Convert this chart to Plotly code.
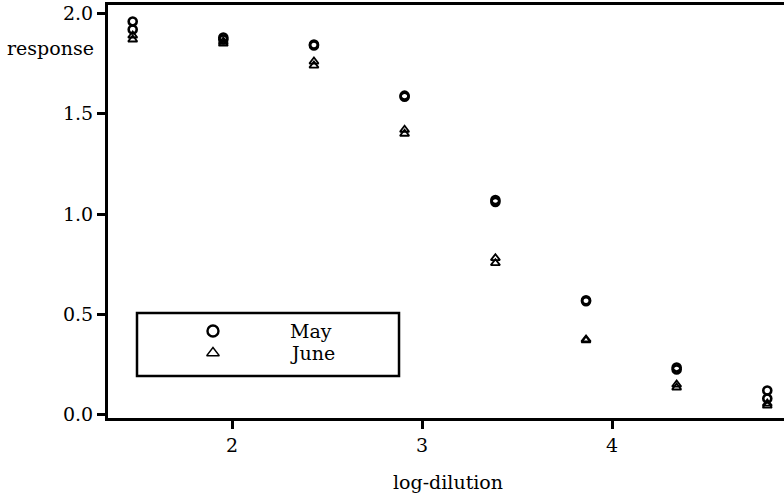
import plotly.graph_objects as go

# data: log10 dilution, two replicates per month
log_dilution = [1.477, 1.477, 1.954, 1.954, 2.431, 2.431, 2.908, 2.908,
                3.386, 3.386, 3.863, 3.863, 4.340, 4.340, 4.817, 4.817]
may = [1.96, 1.92, 1.88, 1.87, 1.845, 1.84, 1.59, 1.585,
       1.07, 1.06, 0.57, 0.565, 0.235, 0.225, 0.12, 0.08]
june = [1.89, 1.87, 1.86, 1.85, 1.76, 1.74, 1.42, 1.40,
        0.78, 0.755, 0.375, 0.37, 0.15, 0.135, 0.055, 0.045]
series_names = ["May", "June"]

FONT = "DejaVu Serif"

fig = go.Figure()
fig.add_trace(go.Scatter(x=log_dilution, y=may, mode="markers", name="May",
                         marker=dict(symbol="circle-open", size=8, color="black",
                                     line=dict(width=2.6, color="black")),
                         showlegend=False))
fig.add_trace(go.Scatter(x=log_dilution, y=june, mode="markers", name="June",
                         marker=dict(symbol="triangle-up-open", size=8, color="black",
                                     line=dict(width=1.8, color="black")),
                         showlegend=False))

# manual legend markers on an overlay axis spanning the plot area [0,1]
fig.add_trace(go.Scatter(x=[0.1553], y=[0.2107], mode="markers", xaxis="x2", yaxis="y2",
                         marker=dict(symbol="circle-open", size=11, color="black",
                                     line=dict(width=2.4, color="black")),
                         showlegend=False, hoverinfo="skip"))
fig.add_trace(go.Scatter(x=[0.1553], y=[0.1574], mode="markers", xaxis="x2", yaxis="y2",
                         marker=dict(symbol="triangle-up-open", size=11, color="black",
                                     line=dict(width=1.4, color="black")),
                         showlegend=False, hoverinfo="skip"))

fig.update_layout(
    width=784, height=498,
    margin=dict(l=108, r=0, t=5, b=80),
    paper_bgcolor="white", plot_bgcolor="white",
    font=dict(family=FONT, size=19, color="black"),
    showlegend=False,
    xaxis=dict(range=[1.347, 4.905], dtick=1, tick0=0, showgrid=False, zeroline=False,
               showline=True, linewidth=3, linecolor="black", mirror=True,
               ticks="outside", ticklen=8, tickwidth=3, tickcolor="black",
               tickfont=dict(family=FONT, size=19, color="black")),
    yaxis=dict(range=[-0.017, 2.042], dtick=0.5, tick0=0, tickformat=".1f",
               showgrid=False, zeroline=False,
               showline=True, linewidth=3, linecolor="black", mirror=False,
               ticks="outside", ticklen=8, tickwidth=3, tickcolor="black",
               tickfont=dict(family=FONT, size=19, color="black")),
    xaxis2=dict(overlaying="x", range=[0, 1], visible=False),
    yaxis2=dict(overlaying="y", range=[0, 1], visible=False),
    shapes=[dict(type="rect", xref="paper", yref="paper",
                 x0=0.0429, x1=0.4305, y0=0.1017, y1=0.2542,
                 line=dict(color="black", width=2.5), fillcolor="rgba(0,0,0,0)")],
    annotations=[
        dict(text=series_names[0], xref="paper", yref="paper", x=0.2663, y=0.2107,
             xanchor="left", yanchor="middle", showarrow=False,
             font=dict(family=FONT, size=19, color="black")),
        dict(text=series_names[1], xref="paper", yref="paper", x=0.2663, y=0.1574,
             xanchor="left", yanchor="middle", showarrow=False,
             font=dict(family=FONT, size=19, color="black")),
        dict(text="response", xref="paper", yref="paper", x=-0.152, y=0.896,
             xanchor="left", yanchor="middle", showarrow=False,
             font=dict(family=FONT, size=19, color="black")),
        dict(text="log-dilution", xref="paper", yref="paper", x=0.503, y=-0.155,
             xanchor="center", yanchor="middle", showarrow=False,
             font=dict(family=FONT, size=19, color="black")),
    ],
)

fig.write_html("out.html")
